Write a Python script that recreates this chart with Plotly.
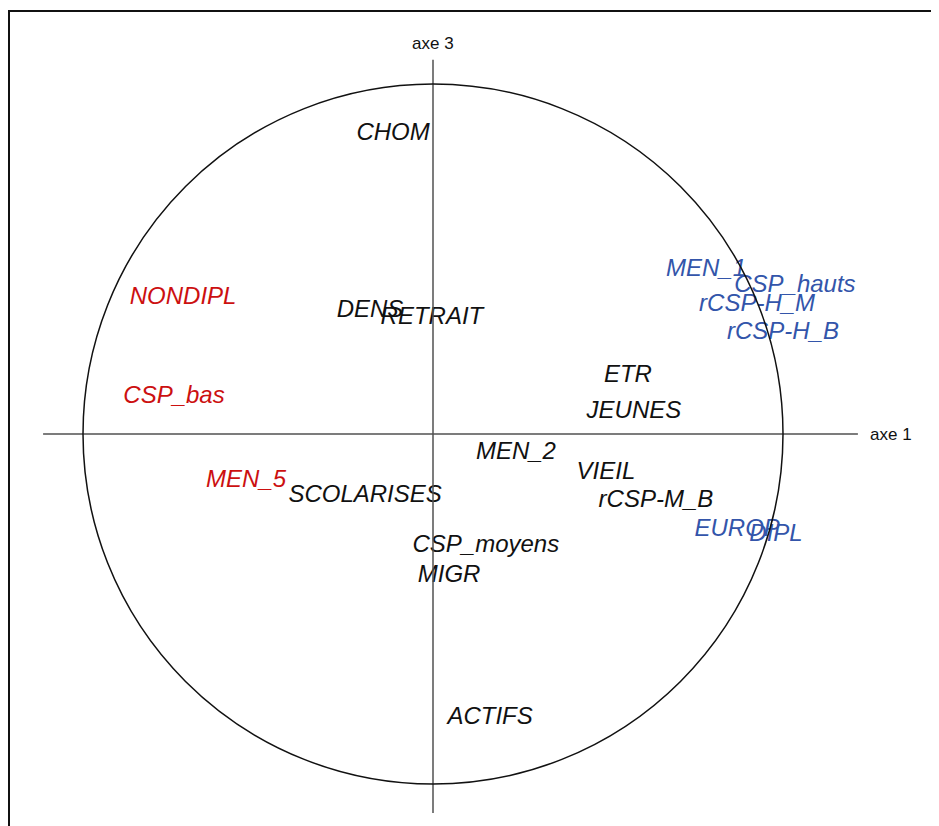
import plotly.graph_objects as go

# variable coordinates on axes 1 and 3 (correlation circle)
black_labels = ["CHOM", "DENS", "RETRAIT", "ETR", "JEUNES", "MEN_2", "VIEIL",
                "SCOLARISES", "rCSP-M_B", "CSP_moyens", "MIGR", "ACTIFS"]
black_x = [-0.114, -0.18, -0.003, 0.557, 0.574, 0.237, 0.494, -0.194, 0.637, 0.151, 0.046, 0.163]
black_y = [0.857, 0.351, 0.331, 0.166, 0.063, -0.054, -0.111, -0.177, -0.191, -0.32, -0.406, -0.811]

red_labels = ["NONDIPL", "CSP_bas", "MEN_5"]
red_x = [-0.714, -0.74, -0.534]
red_y = [0.389, 0.106, -0.134]

blue_labels = ["MEN_1", "CSP_hauts", "rCSP-H_M", "rCSP-H_B", "EUROP", "DIPL"]
blue_x = [0.78, 1.034, 0.926, 1.0, 0.869, 0.98]
blue_y = [0.469, 0.423, 0.369, 0.289, -0.274, -0.289]

W, H = 939, 826
off = 8  # page body margin
cx, cy, r = 433 - off, 434 - off, 350  # circle centre and radius in pixels

fig = go.Figure()

font = dict(family="Liberation Sans, Arial", size=24)
for labels, xs, ys, col in [(black_labels, black_x, black_y, "#111111"),
                            (red_labels, red_x, red_y, "#cc1010"),
                            (blue_labels, blue_x, blue_y, "#3355aa")]:
    fig.add_trace(go.Scatter(
        x=xs, y=ys, mode="text", text=[f"<i>{t}</i>" for t in labels],
        textposition="middle center", textfont=dict(color=col, **font),
        showlegend=False, hoverinfo="skip"
    ))

# axes through the origin
fig.add_shape(type="line", x0=-1.114, x1=1.214, y0=0, y1=0,
              line=dict(color="#505050", width=1.5))
fig.add_shape(type="line", x0=0, x1=0, y0=-1.083, y1=1.069,
              line=dict(color="#505050", width=1.5))
# unit circle
fig.add_shape(type="circle", x0=-1, x1=1, y0=-1, y1=1,
              line=dict(color="#111111", width=1.5))
# frame
fig.add_shape(type="rect", xref="paper", yref="paper",
              x0=1 / W, x1=1.05, y0=-0.05, y1=1 - 3 / H,
              line=dict(color="#111111", width=2))

fig.add_annotation(x=0, y=(434 - 43) / r, text="axe 3", showarrow=False,
                   font=dict(family="Liberation Sans, Arial", size=17, color="#111111"))
fig.add_annotation(x=1.214, y=0, text="axe 1", showarrow=False, xanchor="left", xshift=10,
                   font=dict(family="Liberation Sans, Arial", size=17, color="#111111"))

fig.update_layout(
    width=W, height=H,
    margin=dict(l=0, r=0, t=0, b=0),
    paper_bgcolor="white", plot_bgcolor="white",
    xaxis=dict(range=[-cx / r, (W - cx) / r], visible=False, fixedrange=True),
    yaxis=dict(range=[(cy - H) / r, cy / r], visible=False, fixedrange=True),
)

fig.write_html("out.html")
